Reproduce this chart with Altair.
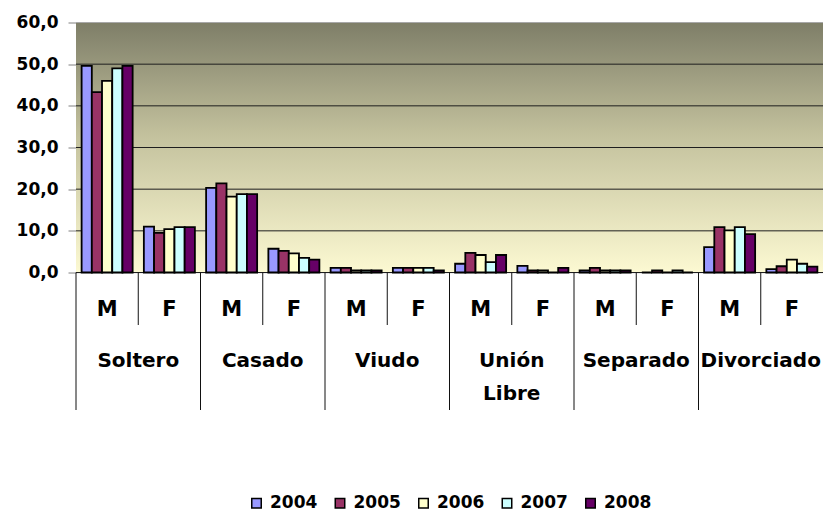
import altair as alt
import pandas as pd

# ---- data ----
estados = ["Soltero", "Casado", "Viudo", "Unión Libre", "Separado", "Divorciado"]
estado_line1 = ["Soltero", "Casado", "Viudo", "Unión", "Separado", "Divorciado"]
estado_line2 = ["", "", "", "Libre", "", ""]
sexos = ["M", "F"]
years = ["2004", "2005", "2006", "2007", "2008"]

# order: Soltero M, Soltero F, Casado M, Casado F, Viudo M, Viudo F,
#        Unión Libre M, Unión Libre F, Separado M, Separado F, Divorciado M, Divorciado F
v2004 = [49.6, 11.0, 20.3, 5.7, 1.1, 1.1, 2.1, 1.6, 0.5, 0.0, 6.1, 0.8]
v2005 = [43.3, 9.5, 21.4, 5.2, 1.1, 1.1, 4.7, 0.5, 1.1, 0.5, 10.9, 1.5]
v2006 = [46.0, 10.4, 18.2, 4.6, 0.5, 1.1, 4.2, 0.5, 0.5, 0.0, 10.1, 3.1]
v2007 = [49.0, 10.9, 18.8, 3.5, 0.5, 1.1, 2.5, 0.0, 0.5, 0.5, 10.9, 2.1]
v2008 = [49.6, 10.9, 18.8, 3.1, 0.5, 0.5, 4.2, 1.1, 0.5, 0.0, 9.2, 1.4]

y_ticks = [0, 10, 20, 30, 40, 50, 60]
colors = ["#9999FF", "#993366", "#FFFFCC", "#CCFFFF", "#660066"]

# ---- tables ----
keys = [f"{e}|{s}" for e in estados for s in sexos]
rows = []
for yr, vals in zip(years, [v2004, v2005, v2006, v2007, v2008]):
    for k, v in zip(keys, vals):
        rows.append({"key": k, "year": yr, "value": v})
bars_df = pd.DataFrame(rows)

cells = pd.DataFrame({
    "key": keys,
    "sexo": [s for e in estados for s in sexos],
    "line1": [l for l in estado_line1 for _ in sexos],
    "line2": [l for l in estado_line2 for _ in sexos],
})
grid_df = pd.DataFrame({"value": y_ticks})

W, H = 747, 250
FONT = "DejaVu Sans"

xscale = alt.Scale(paddingInner=0, paddingOuter=0)
yscale = alt.Scale(domain=[0, 60], nice=False)
yaxis = alt.Axis(values=y_ticks, title=None, grid=False,
                 labelExpr="replace(format(datum.value, '.1f'), '.', ',')",
                 labelFont=FONT, labelFontSize=17, labelFontWeight="bold",
                 labelColor="black", labelPadding=10, tickSize=8,
                 tickColor="#808080", domainColor="#808080")


def xenc(**kw):
    return alt.X("key:N", sort=keys, scale=xscale, axis=None, **kw)


gradient = alt.LinearGradient(
    gradient="linear",
    stops=[
        alt.GradientStop(offset=0, color="#7e7e68"),
        alt.GradientStop(offset=0.45, color="#c3c19d"),
        alt.GradientStop(offset=1, color="#fcf9d2"),
    ],
    x1=0, x2=0, y1=0, y2=1,
)

bg = alt.Chart(pd.DataFrame({"a": [0]})).mark_rect(fill=gradient).encode(
    x=alt.value(0), x2=alt.value(W), y=alt.value(0), y2=alt.value(H)
)

grid = alt.Chart(grid_df).mark_rule(strokeWidth=1).encode(
    x=alt.value(0), x2=alt.value(W),
    y=alt.Y("value:Q", scale=yscale, axis=yaxis),
    color=alt.condition("datum.value == 60", alt.value("#a8a8a8"), alt.value("#1e1e1e")),
)

bars = alt.Chart(bars_df).mark_bar(stroke="black", strokeWidth=1.8, opacity=1).encode(
    x=xenc(),
    xOffset=alt.XOffset("year:N", sort=years,
                        scale=alt.Scale(paddingInner=0, paddingOuter=0.55)),
    y=alt.Y("value:Q", scale=yscale, axis=yaxis),
    color=alt.Color("year:N", scale=alt.Scale(domain=years, range=colors),
                    legend=alt.Legend(orient="none", legendX=172, legendY=472,
                                      direction="horizontal", title=None,
                                      symbolType="square", symbolSize=90,
                                      symbolStrokeColor="black", symbolStrokeWidth=1.5,
                                      symbolOpacity=1,
                                      labelFont=FONT, labelFontSize=17,
                                      labelFontWeight="bold", labelColor="black",
                                      labelOffset=5, columnPadding=13.5, padding=0)),
)

long_rules = alt.Chart(cells).transform_filter("datum.sexo == 'M'").mark_rule(
    color="#111", strokeWidth=1
).encode(x=xenc(bandPosition=0), y=alt.value(H), y2=alt.value(387.5))

short_rules = alt.Chart(cells).transform_filter("datum.sexo == 'F'").mark_rule(
    color="#111", strokeWidth=1
).encode(x=xenc(bandPosition=0), y=alt.value(H), y2=alt.value(302.5))

sex_text = alt.Chart(cells).mark_text(
    font=FONT, fontSize=21, fontWeight="bold", baseline="alphabetic", align="center", color="black"
).encode(x=xenc(), y=alt.value(293.5), text="sexo:N")

cat_text1 = alt.Chart(cells).transform_filter("datum.sexo == 'M'").mark_text(
    font=FONT, fontSize=20, fontWeight="bold", baseline="alphabetic", align="center", color="black"
).encode(x=xenc(bandPosition=1), y=alt.value(344.8), text="line1:N")

cat_text2 = alt.Chart(cells).transform_filter("datum.sexo == 'M' && datum.line2 != ''").mark_text(
    font=FONT, fontSize=20, fontWeight="bold", baseline="alphabetic", align="center", color="black"
).encode(x=xenc(bandPosition=1), y=alt.value(377.5), text="line2:N")

chart = alt.layer(
    bg, grid, bars, long_rules, short_rules, sex_text, cat_text1, cat_text2
).properties(
    width=W, height=H,
    autosize=alt.AutoSizeParams(type="none"),
    padding={"left": 68, "top": 14.5, "right": 0, "bottom": 241.5},
).configure_view(stroke=None).configure(background="white")

chart.save("out.html", embed_options={"renderer": "svg", "actions": False})
